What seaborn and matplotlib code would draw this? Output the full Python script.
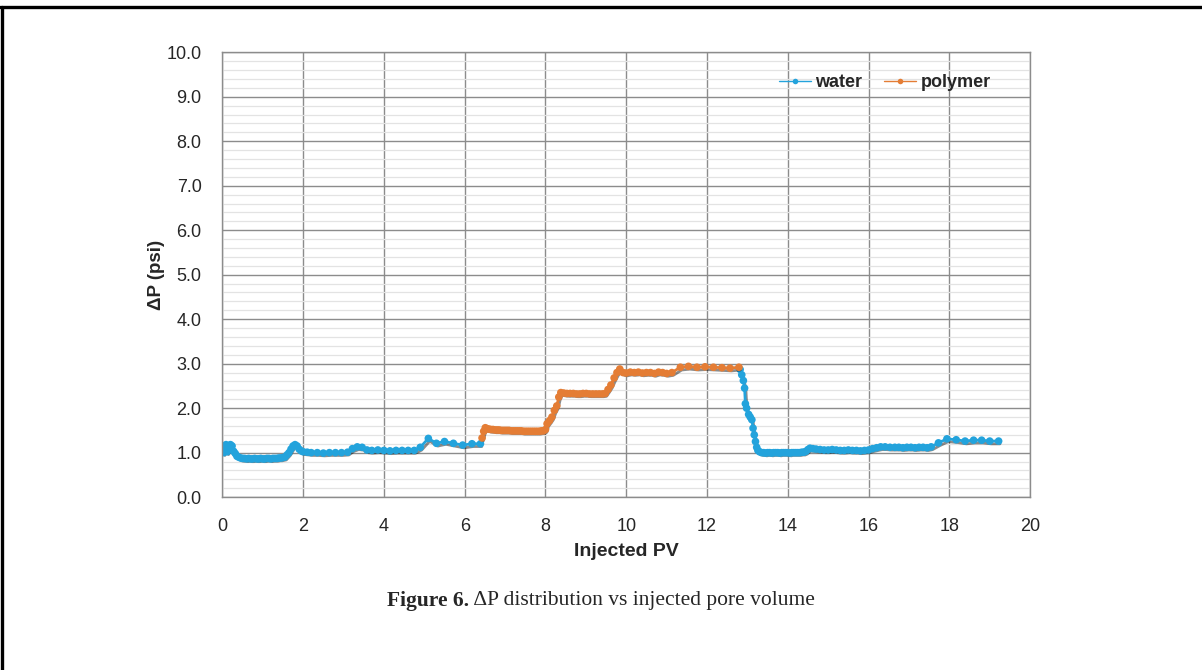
import pandas as pd
import matplotlib
matplotlib.use("Agg")
import matplotlib.pyplot as plt
import matplotlib.patheffects as pe
from matplotlib.lines import Line2D
from matplotlib.ticker import MultipleLocator
import seaborn as sns

# water, first flood
water1_x = [0.00, 0.03, 0.06, 0.09, 0.12, 0.16, 0.20, 0.24, 0.28, 0.32, 0.36, 0.40,
            0.45, 0.50, 0.55, 0.60, 0.65, 0.70, 0.75, 0.80, 0.85, 0.90, 0.95, 1.00,
            1.05, 1.10, 1.15, 1.20, 1.25, 1.30, 1.35, 1.40, 1.45, 1.50, 1.55, 1.60,
            1.65, 1.70, 1.75, 1.80, 1.85, 1.90, 1.95, 2.00, 2.10, 2.20, 2.35, 2.50,
            2.65, 2.80, 2.95, 3.10, 3.22, 3.34, 3.46, 3.58, 3.70, 3.85, 4.00, 4.15,
            4.30, 4.45, 4.60, 4.75, 4.90, 5.10, 5.30, 5.50, 5.72, 5.95, 6.18, 6.39]
water1_y = [1.05, 1.00, 1.12, 1.18, 1.02, 1.10, 1.18, 1.15, 1.03, 0.98, 0.92, 0.90,
            0.88, 0.87, 0.87, 0.86, 0.87, 0.86, 0.86, 0.87, 0.86, 0.86, 0.87, 0.86,
            0.86, 0.87, 0.87, 0.86, 0.87, 0.87, 0.87, 0.88, 0.88, 0.89, 0.90, 0.95,
            1.00, 1.08, 1.15, 1.18, 1.15, 1.08, 1.04, 1.02, 1.01, 1.00, 1.00, 0.99,
            1.00, 1.00, 1.00, 1.01, 1.09, 1.13, 1.12, 1.06, 1.05, 1.06, 1.05, 1.04,
            1.05, 1.05, 1.05, 1.05, 1.12, 1.32, 1.21, 1.25, 1.21, 1.17, 1.20, 1.20]

# polymer flood
polymer_x = [6.43, 6.47, 6.51, 6.55, 6.60, 6.65, 6.70, 6.75, 6.80, 6.85, 6.90, 6.95,
             7.00, 7.05, 7.10, 7.15, 7.20, 7.25, 7.30, 7.35, 7.40, 7.45, 7.50, 7.55,
             7.60, 7.65, 7.70, 7.75, 7.80, 7.85, 7.90, 7.95, 8.00, 8.04, 8.10, 8.16,
             8.22, 8.28, 8.33, 8.38, 8.45, 8.53, 8.61, 8.69, 8.77, 8.85, 8.93, 9.01,
             9.09, 9.17, 9.25, 9.33, 9.41, 9.48, 9.55, 9.62, 9.70, 9.77, 9.84, 9.92,
             10.00, 10.10, 10.20, 10.30, 10.40, 10.50, 10.60, 10.70, 10.80, 10.90, 11.00, 11.13,
             11.34, 11.54, 11.75, 11.95, 12.16, 12.37, 12.57, 12.79]
polymer_y = [1.33, 1.48, 1.56, 1.54, 1.53, 1.52, 1.52, 1.51, 1.51, 1.51, 1.50, 1.50,
             1.50, 1.50, 1.50, 1.49, 1.49, 1.49, 1.49, 1.49, 1.49, 1.48, 1.48, 1.48,
             1.48, 1.48, 1.48, 1.48, 1.48, 1.48, 1.49, 1.49, 1.52, 1.65, 1.72, 1.80,
             1.95, 2.05, 2.25, 2.35, 2.34, 2.33, 2.33, 2.33, 2.32, 2.32, 2.33, 2.33,
             2.32, 2.32, 2.32, 2.32, 2.32, 2.33, 2.42, 2.52, 2.68, 2.80, 2.88, 2.80,
             2.79, 2.81, 2.80, 2.81, 2.79, 2.80, 2.80, 2.78, 2.81, 2.80, 2.78, 2.80,
             2.92, 2.94, 2.92, 2.93, 2.92, 2.91, 2.90, 2.92]

# water, post-polymer flood
water2_x = [12.82, 12.86, 12.90, 12.93, 12.95, 12.98, 13.03, 13.07, 13.11, 13.14, 13.17, 13.20,
            13.23, 13.26, 13.30, 13.35, 13.40, 13.45, 13.50, 13.55, 13.60, 13.65, 13.70, 13.75,
            13.80, 13.85, 13.90, 13.95, 14.00, 14.05, 14.10, 14.15, 14.20, 14.25, 14.30, 14.35,
            14.40, 14.45, 14.50, 14.55, 14.62, 14.70, 14.80, 14.90, 15.00, 15.10, 15.20, 15.30,
            15.40, 15.50, 15.60, 15.70, 15.80, 15.90, 16.00, 16.10, 16.20, 16.30, 16.41, 16.53,
            16.65, 16.75, 16.85, 16.95, 17.05, 17.15, 17.25, 17.35, 17.45, 17.55, 17.73, 17.94,
            18.17, 18.39, 18.60, 18.80, 19.00, 19.22]
water2_y = [2.87, 2.75, 2.62, 2.45, 2.10, 2.00, 1.86, 1.80, 1.74, 1.55, 1.40, 1.25,
            1.12, 1.05, 1.02, 1.00, 1.00, 0.99, 1.00, 1.00, 0.99, 1.00, 1.00, 1.00,
            0.99, 1.00, 1.00, 1.00, 1.00, 0.99, 1.00, 1.00, 1.00, 1.00, 1.00, 1.01,
            1.01, 1.03, 1.07, 1.10, 1.09, 1.08, 1.07, 1.06, 1.06, 1.07, 1.06, 1.05,
            1.05, 1.06, 1.05, 1.05, 1.04, 1.05, 1.06, 1.09, 1.11, 1.13, 1.13, 1.12,
            1.12, 1.12, 1.11, 1.12, 1.12, 1.11, 1.12, 1.12, 1.11, 1.13, 1.22, 1.31,
            1.29, 1.26, 1.28, 1.28, 1.26, 1.26]

frames = []
for seg, (xs, ys, phase) in enumerate([(water1_x, water1_y, "water"),
                                        (polymer_x, polymer_y, "polymer"),
                                        (water2_x, water2_y, "water")]):
    frames.append(pd.DataFrame({"pv": xs, "dp": ys, "phase": phase, "segment": seg}))
df = pd.concat(frames, ignore_index=True)

sns.set_style("white")
plt.rcParams["font.family"] = ["Liberation Sans", "DejaVu Sans"]

fig = plt.figure(figsize=(12.02, 6.70), dpi=100)
ax = fig.add_axes([0.185, 0.258, 0.672, 0.664])

colors = {"water": "#23a3dc", "polymer": "#e47d35"}
sns.lineplot(data=df, x="pv", y="dp", hue="phase", units="segment", estimator=None,
             sort=False, palette=colors, marker="o", markersize=5.5, markeredgewidth=0,
             linewidth=2.0, ax=ax, legend=False)

for ln in ax.lines:
    ln.set_path_effects([pe.SimpleLineShadow(offset=(1.0, -2.0), alpha=0.45), pe.Normal()])

ax.set_xlim(0, 20)
ax.set_ylim(0, 10)
ax.xaxis.set_major_locator(MultipleLocator(2))
ax.yaxis.set_major_locator(MultipleLocator(1))
ax.yaxis.set_minor_locator(MultipleLocator(0.2))
ax.set_yticklabels([f"{v:.1f}" for v in ax.get_yticks()])
ax.grid(which="major", color="#8c8c8c", linewidth=1.0)
ax.grid(which="minor", axis="y", color="#e3e3e3", linewidth=0.9)
ax.set_axisbelow(True)
for s in ax.spines.values():
    s.set_color("#8c8c8c")
    s.set_linewidth(1.0)
ax.tick_params(which="both", length=0, labelsize=13, colors="#262626")
ax.tick_params(axis="y", pad=15)
ax.tick_params(axis="x", pad=15)

ax.set_xlabel("Injected PV", fontsize=14, fontweight="bold", labelpad=6)
ax.set_ylabel("ΔP (psi)", fontsize=13.5, fontweight="bold", labelpad=1)

handles = [Line2D([], [], color=colors[k], marker="o", markersize=4, markeredgewidth=0,
                  linewidth=1.0) for k in ["water", "polymer"]]
ax.legend(handles, ["water", "polymer"], ncol=2, frameon=False, loc="center right",
          bbox_to_anchor=(0.971, 0.932), prop={"weight": "bold", "size": 13},
          handlelength=1.75, handletextpad=0.25, columnspacing=1.2)

# frame lines of the page
fig.add_artist(Line2D([0, 1], [0.99, 0.99], color="black", linewidth=2.4,
                      transform=fig.transFigure))
fig.add_artist(Line2D([0.002, 0.002], [0, 0.99], color="black", linewidth=2.4,
                      transform=fig.transFigure))

# caption: bold lead + regular text, centered together
cap_y = 0.103
t1 = fig.text(0, cap_y, "Figure 6.", fontfamily="Liberation Serif", fontweight="bold",
              fontsize=15.5, va="center")
t2 = fig.text(0, cap_y, " ΔP distribution vs injected pore volume",
              fontfamily="Liberation Serif", fontsize=15.5, va="center")
fig.canvas.draw()
r = fig.canvas.get_renderer()
w1 = t1.get_window_extent(r).width / fig.bbox.width
w2 = t2.get_window_extent(r).width / fig.bbox.width
x0 = 0.5 - (w1 + w2) / 2
t1.set_x(x0)
t2.set_x(x0 + w1)

fig.savefig("out.png", dpi=100)
